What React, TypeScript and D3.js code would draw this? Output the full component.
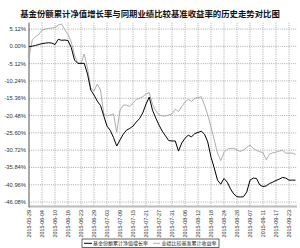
import React from "react";
import * as d3 from "d3";

const dates = [
  "2015-05-29",
  "2015-06-01","2015-06-02","2015-06-03","2015-06-04","2015-06-05",
  "2015-06-08","2015-06-09","2015-06-10","2015-06-11","2015-06-12",
  "2015-06-15","2015-06-16","2015-06-17","2015-06-18","2015-06-19",
  "2015-06-23","2015-06-24","2015-06-25","2015-06-26",
  "2015-06-29","2015-06-30","2015-07-01","2015-07-02","2015-07-03",
  "2015-07-06","2015-07-07","2015-07-08","2015-07-09","2015-07-10",
  "2015-07-13","2015-07-14","2015-07-15","2015-07-16","2015-07-17",
  "2015-07-20","2015-07-21","2015-07-22","2015-07-23","2015-07-24",
  "2015-07-27","2015-07-28","2015-07-29","2015-07-30","2015-07-31",
  "2015-08-03","2015-08-04","2015-08-05","2015-08-06","2015-08-07",
  "2015-08-10","2015-08-11","2015-08-12","2015-08-13","2015-08-14",
  "2015-08-17","2015-08-18","2015-08-19","2015-08-20","2015-08-21",
  "2015-08-24","2015-08-25","2015-08-26","2015-08-27","2015-08-28",
  "2015-08-31","2015-09-01","2015-09-02",
  "2015-09-07","2015-09-08","2015-09-09","2015-09-10","2015-09-11",
  "2015-09-14","2015-09-15","2015-09-16","2015-09-17","2015-09-18",
  "2015-09-21","2015-09-22","2015-09-23","2015-09-24","2015-09-25",
];

const fundValues = [
  -0.12, 0.06, 0.27, 0.56, 0.8, 0.95, 1.07, 0.98, 0.53, 2.07,
  1.8, 1.86, 1.72, -0.36, -4.05, -5.03, -5.03, -5.03, -8.2, -12.93,
  -14.4, -16.2, -17.5, -20.6, -23.6, -24.9, -27.0, -29.5, -27.7, -26.0,
  -24.8, -24.3, -23.6, -22.4, -21.4, -19.7, -17.1, -15.0, -18.9, -21.2,
  -23.3, -25.1, -26.5, -27.9, -28.0, -28.0, -31.0, -28.6, -27.2, -26.3,
  -26.8, -25.8, -25.5, -25.1, -26.0, -28.3, -32.8, -36.0, -39.6, -40.8,
  -39.1, -40.2, -42.2, -43.7, -44.5, -44.6, -44.5, -43.1, -39.6, -39.0,
  -39.1, -41.0, -41.5, -41.3, -40.6, -40.2, -39.7, -39.3, -38.8, -39.0,
  -39.6, -39.6, -39.6,
];

const benchValues = [
  -3.17, 1.86, 2.9, 3.49, 4.82, 5.12, 5.33, 5.42, 5.62, 6.3,
  6.6, 4.97, 3.49, 1.27, -2.57, -5.03, -5.03, -2.28, -6.42, -12.3,
  -13.2, -11.2, -12.9, -20.0, -20.6, -20.3, -20.0, -25.4, -18.9, -17.4,
  -17.4, -17.8, -16.8, -15.7, -15.4, -14.9, -14.1, -13.7, -17.1, -19.1,
  -20.3, -20.6, -20.6, -20.3, -20.0, -18.6, -19.3, -17.8, -16.5, -15.7,
  -16.3, -15.4, -15.2, -14.9, -17.4, -20.3, -23.9, -27.7, -31.6, -33.8,
  -31.4, -30.4, -30.2, -30.2, -30.7, -31.1, -30.7, -29.9, -29.2, -30.2,
  -30.8, -31.2, -31.4, -33.6, -31.9, -31.5, -31.3, -31.0, -30.8, -31.6,
  -31.6, -31.6, -32.0,
];

const yTicks = [5.12, 0, -5.12, -10.24, -15.36, -20.48, -25.6, -30.72, -35.84, -40.96, -46.08];
const labelEvery = 4;

const title = "基金份额累计净值增长率与同期业绩比较基准收益率的历史走势对比图";
const legendFund = "基金份额累计净值增长率";
const legendBench = "业绩比较基准累计收益率";

export default function App() {
  const W = 300, H = 248;
  const left = 29, right = 297, top = 22.7, bottom = 206.5;
  const x = d3.scalePoint<string>().domain(dates).range([left, left + 82 * 3.25]);
  const y = d3.scaleLinear().domain([-47.4, 7.0]).range([bottom, top]);

  const line = d3
    .line<number>()
    .x((_, i) => x(dates[i]) as number)
    .y((d) => y(d));

  const tickDates = dates.filter((_, i) => i % labelEvery === 0);
  const sans = "'Liberation Sans', Arial, sans-serif";
  const cjk = "'Noto Sans CJK SC', sans-serif";

  return (
    <svg
      width={W}
      height={H}
      style={{ position: "absolute", left: 0, top: 0, background: "#fff" }}
    >
      <rect x={0} y={0} width={W} height={H} fill="#fff" />
      <text
        x={150}
        y={17}
        textAnchor="middle"
        fontFamily={cjk}
        fontWeight="bold"
        fontSize={8.4}
        fill="#111"
      >
        {title}
      </text>

      {yTicks.map((t) => (
        <line
          key={"h" + t}
          x1={left}
          x2={right}
          y1={y(t)}
          y2={y(t)}
          stroke="#888"
          strokeWidth={0.7}
          strokeDasharray="1,1.2"
        />
      ))}
      {tickDates.map((d, i) =>
        i === 0 ? null : (
          <line
            key={"v" + d}
            x1={x(d)}
            x2={x(d)}
            y1={top}
            y2={bottom}
            stroke="#888"
            strokeWidth={0.7}
            strokeDasharray="1,1.2"
          />
        )
      )}

      <line x1={left} x2={right} y1={bottom} y2={bottom} stroke="#bbb" strokeWidth={2} />
      <line x1={left} x2={left} y1={top} y2={bottom + 1} stroke="#555" strokeWidth={1} />

      {yTicks.map((t) => (
        <text
          key={"yl" + t}
          x={26}
          y={y(t) + 2}
          textAnchor="end"
          fontFamily={sans}
          fontSize={5.8}
          fill="#333"
        >
          {t.toFixed(2) + "%"}
        </text>
      ))}

      {tickDates.map((d) => {
        const px = (x(d) as number) + 2;
        return (
          <text
            key={"xl" + d}
            transform={`translate(${px},210) rotate(-90)`}
            textAnchor="end"
            fontFamily={sans}
            fontSize={5.4}
            fill="#333"
          >
            {d}
          </text>
        );
      })}

      <path d={line(benchValues) || ""} fill="none" stroke="#999" strokeWidth={0.8} />
      <path d={line(fundValues) || ""} fill="none" stroke="#000" strokeWidth={1} />

      <rect x={82} y={239} width={137} height={8.5} fill="#fff" stroke="#222" strokeWidth={0.7} />
      <line x1={84} x2={92} y1={243.3} y2={243.3} stroke="#000" strokeWidth={1} />
      <text x={93} y={245} fontFamily={cjk} fontSize={5} fill="#222">
        {legendFund}
      </text>
      <line x1={153} x2={160} y1={243.3} y2={243.3} stroke="#999" strokeWidth={0.8} />
      <text x={161.5} y={245} fontFamily={cjk} fontSize={5} fill="#222">
        {legendBench}
      </text>
    </svg>
  );
}
